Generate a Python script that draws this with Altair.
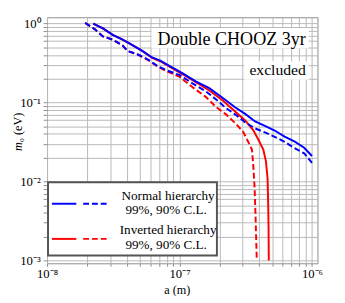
import altair as alt
import pandas as pd

# ---- data (a in metres, m0 in eV) ----
nh99_a = [2.23e-8, 2.64e-8, 3.13e-8, 3.72e-8, 4.41e-8, 5.23e-8, 6.21e-8, 7.15e-8, 8.72e-8,
          1.065e-7, 1.336e-7, 1.676e-7, 2.11e-7, 2.64e-7, 3.13e-7, 3.72e-7, 4.41e-7, 5.23e-7,
          6.21e-7, 7.36e-7, 8.73e-7, 1.0e-6]
nh99_m = [1.0, 0.868, 0.718, 0.624, 0.532, 0.45, 0.372, 0.339, 0.28,
          0.232, 0.184, 0.152, 0.115, 0.0863, 0.0717, 0.0575, 0.0505, 0.0442,
          0.037, 0.0321, 0.0267, 0.021]

nh90_a = [1.94e-8, 2.30e-8, 2.64e-8, 3.13e-8, 3.72e-8, 4.05e-8, 4.80e-8, 5.70e-8, 6.76e-8,
          8.02e-8, 1.005e-7, 1.262e-7, 1.585e-7, 1.88e-7, 2.23e-7, 2.64e-7, 3.13e-7, 3.72e-7,
          4.41e-7, 5.23e-7, 6.21e-7, 7.36e-7, 8.73e-7, 1.0e-6]
nh90_m = [1.02, 0.844, 0.687, 0.624, 0.526, 0.45, 0.408, 0.355, 0.293,
          0.255, 0.222, 0.173, 0.138, 0.11, 0.0857, 0.0703, 0.056, 0.047,
          0.0418, 0.0367, 0.0318, 0.0265, 0.0227, 0.0172]

ih99_a = [2.23e-8, 2.64e-8, 3.13e-8, 3.72e-8, 4.41e-8, 5.23e-8, 6.21e-8, 7.15e-8, 8.72e-8,
          1.065e-7, 1.336e-7, 1.676e-7, 2.11e-7, 2.64e-7, 3.13e-7, 3.60e-7, 3.94e-7, 4.29e-7,
          4.49e-7, 4.62e-7, 4.66e-7, 4.70e-7, 4.72e-7]
ih99_m = [1.0, 0.868, 0.718, 0.624, 0.532, 0.45, 0.368, 0.333, 0.274,
          0.226, 0.179, 0.142, 0.107, 0.0765, 0.0593, 0.0447, 0.0337, 0.0254,
          0.0181, 0.0109, 0.00618, 0.00265, 0.001]

ih90_a = [1.94e-8, 2.30e-8, 2.64e-8, 3.13e-8, 3.72e-8, 4.05e-8, 4.80e-8, 5.70e-8, 6.76e-8,
          8.02e-8, 1.005e-7, 1.262e-7, 1.585e-7, 1.88e-7, 2.23e-7, 2.64e-7, 3.03e-7, 3.30e-7,
          3.52e-7, 3.60e-7, 3.69e-7, 3.75e-7, 3.83e-7]
ih90_m = [1.02, 0.844, 0.687, 0.624, 0.526, 0.45, 0.408, 0.35, 0.288,
          0.248, 0.211, 0.155, 0.117, 0.0881, 0.0713, 0.0545, 0.0423, 0.0318,
          0.0254, 0.0166, 0.0082, 0.00352, 0.001]

x_ticks = ["10⁻⁸", "10⁻⁷", "10⁻⁶"]
y_ticks = ["10⁻³", "10⁻²", "10⁻¹", "10⁰"]

FONT = "Liberation Serif"
BLUE = "#0000ff"
RED = "#ff0000"


def frame(a, m, name):
    return pd.DataFrame({"a": a, "m": m, "series": name, "idx": list(range(len(a)))})


df = pd.concat([
    frame(ih99_a, ih99_m, "ih99"),
    frame(ih90_a, ih90_m, "ih90"),
    frame(nh99_a, nh99_m, "nh99"),
    frame(nh90_a, nh90_m, "nh90"),
], ignore_index=True)

x_grid = [float(f"{k}e{e}") for e in (-8, -7) for k in range(1, 10)] + [1e-6]
y_grid = [float(f"{k}e{e}") for e in (-3, -2, -1) for k in range(1, 10)] + [1.0]

x_expr = ("datum.value == 1e-8 ? '%s' : datum.value == 1e-7 ? '%s' : "
          "datum.value == 1e-6 ? '%s' : ''") % tuple(x_ticks)
y_expr = ("datum.value == 0.001 ? '%s' : datum.value == 0.01 ? '%s' : "
          "datum.value == 0.1 ? '%s' : datum.value == 1 ? '%s' : ''") % tuple(y_ticks)

X = alt.X("a:Q",
          scale=alt.Scale(type="log", domain=[1e-8, 1.1e-6], nice=False),
          axis=alt.Axis(values=x_grid, labelExpr=x_expr, title="a (m)",
                        titleX=133, titleY=27, titleBaseline="middle",
                        tickSize=3, labelPadding=2, labelFlush=False))
Y = alt.Y("m:Q",
          scale=alt.Scale(type="log", domain=[0.00092, 1.2], nice=False),
          axis=alt.Axis(values=y_grid, labelExpr=y_expr, title=None,
                        tickSize=4, labelPadding=3, labelFlush=False))


def curve(name, color, dash=None):
    kw = dict(color=color, strokeWidth=2, clip=True)
    if dash:
        kw["strokeDash"] = dash
    return (alt.Chart(df).transform_filter(alt.datum.series == name)
            .mark_line(**kw).encode(x=X, y=Y, order="idx:Q"))


one = alt.Data(values=[{}])


def box(x1, x2, y1, y2, stroke=None, sw=0):
    kw = dict(fill="white")
    if stroke:
        kw.update(stroke=stroke, strokeWidth=sw)
    return alt.Chart(one).mark_rect(**kw).encode(
        x=alt.value(x1), x2=alt.value(x2), y=alt.value(y1), y2=alt.value(y2))


def seg(x1, x2, yy, color, dash=None):
    kw = dict(color=color, strokeWidth=2)
    if dash:
        kw["strokeDash"] = dash
    return alt.Chart(one).mark_rule(**kw).encode(
        x=alt.value(x1), x2=alt.value(x2), y=alt.value(yy))


def label(txt, xx, yy, size, align="center", baseline="middle", style="normal", angle=0):
    kw = dict(text=txt, font=FONT, fontSize=size, align=align, baseline=baseline,
              fontStyle=style, color="black")
    if angle:
        kw["angle"] = angle
    return alt.Chart(one).mark_text(**kw).encode(x=alt.value(xx), y=alt.value(yy))


DASH = [6, 3]

layers = [
    curve("ih99", RED),
    curve("ih90", RED, DASH),
    curve("nh99", BLUE),
    curve("nh90", BLUE, DASH),
    # title boxes
    box(107, 268, 11, 32),
    label("Double CHOOZ 3yr", 265, 28, 18.5, align="right", baseline="alphabetic"),
    box(202, 268, 45, 64),
    label("excluded", 265, 59, 16, align="right", baseline="alphabetic"),
    # legend
    box(1, 174, 169, 244, stroke="#555555", sw=2),
    seg(5, 30, 191, BLUE),
    seg(37, 62, 191, BLUE, DASH),
    seg(5, 30, 227, RED),
    seg(37, 62, 227, RED, DASH),
    label("Normal hierarchy", 124, 183, 13.5),
    label("99%, 90% C.L.", 122, 198, 13.5),
    label("Inverted hierarchy", 124, 218, 13.5),
    label("99%, 90% C.L.", 122, 233, 13.5),
    # y-axis title (italic m, subscript 0)
    label("m", -30, 128, 12.5, align="right", baseline="middle", style="italic", angle=270),
    label("₀ (eV)", -30, 128, 12.5, align="left", baseline="middle", angle=270),
]

chart = alt.layer(*layers).properties(
    width=277, height=252,
    padding={"left": 40, "top": 6, "right": 20, "bottom": 30},
    autosize=alt.AutoSizeParams(type="none"),
).configure_view(
    stroke="#8c8c8c", strokeWidth=1
).configure_axis(
    labelFont=FONT, titleFont=FONT, labelFontSize=13, titleFontSize=12.5,
    labelColor="black", titleColor="black", titleFontWeight="normal",
    grid=True, gridColor="#b8b8b8", gridWidth=1,
    tickColor="#8c8c8c", domain=False,
)

chart.save("out.html", embed_options={"renderer": "svg", "actions": False})
